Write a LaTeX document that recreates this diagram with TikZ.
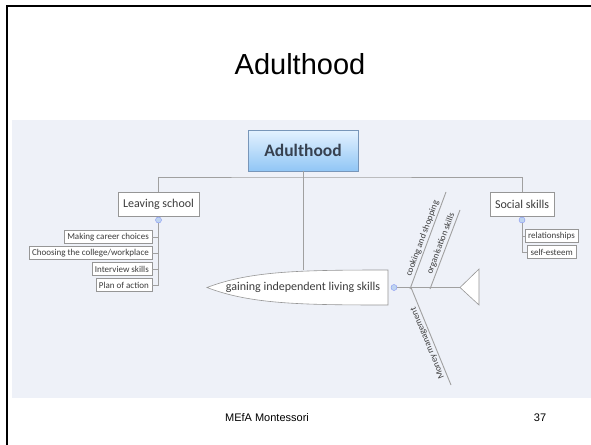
\documentclass[tikz,border=0pt]{standalone}
\usepackage{fontspec}
\setmainfont{Liberation Sans}
\newfontfamily\mapfont{Carlito}
\usetikzlibrary{positioning}
\definecolor{mypanel}{RGB}{238,241,248}
\definecolor{myline}{RGB}{160,160,160}
\definecolor{myframe}{RGB}{150,150,150}
\definecolor{mytext}{RGB}{60,60,60}
\definecolor{rootdark}{RGB}{55,65,80}
\definecolor{roottop}{RGB}{228,242,255}
\definecolor{rootbot}{RGB}{145,198,245}
\definecolor{rootedge}{RGB}{120,150,185}
\definecolor{dotblue}{RGB}{190,212,240}
\tikzset{
  rootbox/.style={rectangle, draw=rootedge, top color=roottop, bottom color=rootbot,
    minimum width=110pt, minimum height=41pt,
    font=\mapfont\fontsize{17.5}{20}\selectfont\bfseries, text=rootdark},
  topicbox/.style={rectangle, draw=myframe, fill=white, minimum height=24pt,
    inner xsep=5pt, font=\mapfont\fontsize{12}{14}\selectfont, text=mytext},
  leafbox/.style={rectangle, draw=myframe, fill=white, minimum height=13pt,
    inner xsep=3pt, inner ysep=0pt, anchor=east,
    font=\mapfont\fontsize{9}{10}\selectfont, text=mytext},
  bonelabel/.style={font=\mapfont\fontsize{9}{10}\selectfont, text=mytext, inner sep=1.5pt},
  dot/.style={circle, fill=dotblue, draw=dotblue!70!blue, inner sep=0pt, minimum size=6pt},
  link/.style={color=myline, line width=0.9pt}
}

\begin{document}
\begin{tikzpicture}[x=1pt, y=-1pt]
  \useasboundingbox (0,0) rectangle (591,444);

  % Slide frame and title
  \draw[line width=2pt] (7,470) -- (7,6) -- (620,6);
  \node (title) at (300,64) {\fontsize{29}{34}\selectfont Adulthood};

  % Mind map panel
  \fill[mypanel] (12,120) rectangle (591,398);

  % Root and main topics
  \node[rootbox] (root) at (303,150.5) {Adulthood};
  \coordinate (bus) at (303,177);
  \node[topicbox] (school) at (158.5,204.5) {Leaving school};
  \node[topicbox] (social) at (522,204.5) {Social skills};
  \draw[link] (school.north) |- (bus) -| (social.north);

  % Leaving school branch
  \node[dot] (sdot) at (158.5,220) {};
  \node[leafbox] (career) at (152,237) {Making career choices};
  \node[leafbox] (college) at (152,253) {Choosing the college/workplace};
  \node[leafbox] (interview) at (152,269) {Interview skills};
  \node[leafbox] (plan) at (152,285) {Plan of action};
  \foreach \n in {career, college, interview, plan}
    \draw[link] (sdot) |- (\n.east);

  % Social skills branch
  \node[dot] (rdot) at (522,220) {};
  \node[leafbox] (relations) at (578,236) {relationships};
  \node[leafbox] (esteem) at (576,252) {self-esteem};
  \draw[link] (rdot) |- (relations.west);
  \draw[link] (rdot) |- (esteem.west);

  % Living skills topic
  \draw[draw=myframe, fill=white, line width=0.6pt] (207,287.5)
    .. controls (250,271) and (300,270) .. (388,270) -- (388,305)
    .. controls (300,305) and (250,304) .. cycle;
  \node[minimum height=35pt, inner sep=0pt, font=\mapfont\fontsize{12}{14}\selectfont,
    text=mytext] (living) at (303,287.5) {gaining independent living skills};
  \draw[link] (root.south) -- (living.north);

  % Fishbone
  \node[dot] (ldot) at (394,287.5) {};
  \coordinate (head) at (460,287.5);
  \draw[draw=myframe, fill=white, line width=0.6pt] (head) -- (479,269) -- (479,305) -- cycle;
  \draw[link] (ldot) -- (head);
  \coordinate (cookA) at (410,289);
  \coordinate (cookB) at (446,192);
  \coordinate (orgA) at (430,289);
  \coordinate (orgB) at (460,210);
  \coordinate (moneyA) at (451,385);
  \coordinate (moneyB) at (411,287.5);
  \draw[link] (cookA) -- node[bonelabel, sloped, above, pos=0.5] {cooking and shopping} (cookB);
  \draw[link] (orgA) -- node[bonelabel, sloped, above, pos=0.55] {organisation skills} (orgB);
  \draw[link] (moneyA) -- node[bonelabel, sloped, allow upside down, above, pos=0.45] {Money management} (moneyB);

  % Footer
  \node[font=\fontsize{11}{13}\selectfont] (footer) at (267,418) {MEfA Montessori};
  \node[font=\fontsize{11}{13}\selectfont] (page) at (540,418) {37};
\end{tikzpicture}
\end{document}
